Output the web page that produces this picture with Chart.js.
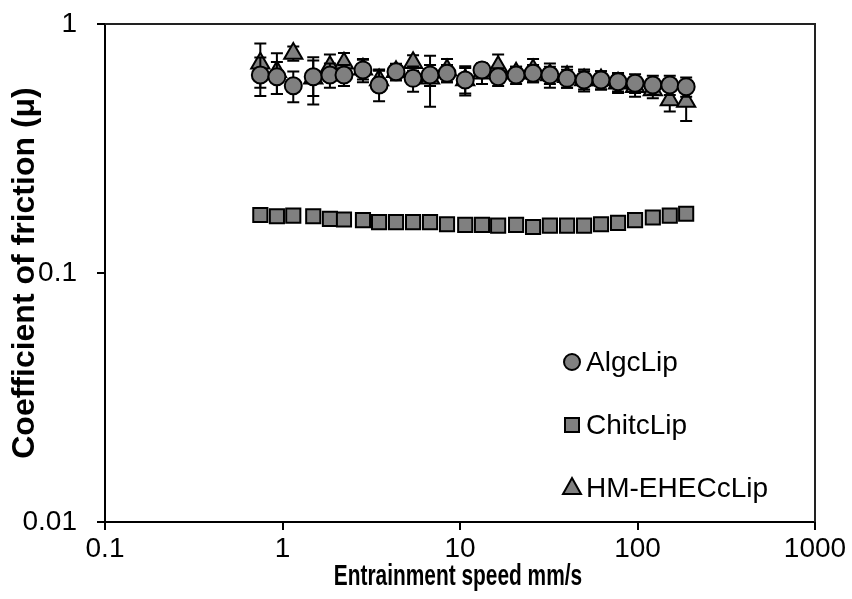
<!DOCTYPE html>
<html>
<head>
<meta charset="utf-8">
<script src="https://cdn.jsdelivr.net/npm/chart.js@4.4.1/dist/chart.umd.min.js"></script>
<style>
  html, body { margin: 0; padding: 0; background: #fff; }
  #wrap { width: 852px; height: 599px; }
</style>
</head>
<body>
<div id="wrap"><canvas id="frictionChart" width="852" height="599"></canvas></div>
<script>
// speeds (mm/s) and friction values
const speed = [0.75, 0.93, 1.15, 1.49, 1.85, 2.22, 2.84, 3.50, 4.36, 5.44, 6.78, 8.45, 10.7,
               13.3, 16.4, 20.7, 25.8, 32.1, 40.1, 50.0, 62.3, 77.7, 96.9, 122, 152, 188];
const algc = [0.624, 0.614, 0.565, 0.614, 0.624, 0.624, 0.654, 0.569, 0.643, 0.605, 0.624, 0.634, 0.596,
              0.654, 0.614, 0.624, 0.634, 0.624, 0.605, 0.596, 0.596, 0.586, 0.578, 0.569, 0.569, 0.560];
const algcErr = [0.11, 0.09, 0.08, 0.10, 0.07, 0.06, 0.07, 0.08, 0.05, 0.07, 0.06, 0.05, 0.08,
                 0.04, 0.05, 0.05, 0.05, 0.05, 0.05, 0.05, 0.05, 0.05, 0.05, 0.05, 0.05, 0.05];
const chitc = [0.171, 0.169, 0.170, 0.169, 0.165, 0.164, 0.163, 0.160, 0.160, 0.160, 0.160, 0.157, 0.156,
               0.156, 0.155, 0.156, 0.153, 0.155, 0.155, 0.155, 0.157, 0.159, 0.163, 0.167, 0.170, 0.173];
const chitcErr = [0.005, 0.004, 0.006, 0.004, 0.005, 0.004, 0.004, 0.005, 0.004, 0.004, 0.006, 0.004, 0.004,
                  0.004, 0.004, 0.004, 0.004, 0.004, 0.004, 0.004, 0.004, 0.004, 0.004, 0.004, 0.004, 0.004];
const hm = [0.695, 0.643, 0.762, 0.605, 0.674, 0.695, 0.658, 0.596, 0.643, 0.699, 0.605, 0.654, 0.596,
            0.634, 0.674, 0.634, 0.654, 0.624, 0.614, 0.596, 0.596, 0.578, 0.560, 0.543, 0.495, 0.488];
const hmErr = [0.14, 0.12, 0.05, 0.13, 0.08, 0.07, 0.06, 0.06, 0.04, 0.05, 0.14, 0.07, 0.07,
               0.06, 0.08, 0.04, 0.07, 0.07, 0.06, 0.06, 0.05, 0.05, 0.05, 0.04, 0.05, 0.08];

const xTicks = [0.1, 1, 10, 100, 1000];
const yTicks = [0.01, 0.1, 1];
const seriesNames = ['AlgcLip', 'ChitcLip', 'HM-EHECcLip'];
const xTitle = 'Entrainment speed mm/s';

const tickFont = { family: '"Liberation Sans", Arial, sans-serif', size: 28 };

function points(ys) {
    return speed.map((x, i) => ({ x: x, y: ys[i] }));
}

// error bars of each series go under its own markers
const errorBars = {
    id: 'errorBars',
    beforeDatasetDraw(chart, args) {
        const ds = chart.data.datasets[args.index];
        const ctx = chart.ctx;
        const xs = chart.scales.x, ys = chart.scales.y;
        ctx.save();
        ctx.strokeStyle = '#000';
        ctx.lineWidth = 2;
        ds.data.forEach((p, i) => {
            const e = ds.errors[i];
            const px = xs.getPixelForValue(p.x);
            const top = ys.getPixelForValue(p.y + e);
            const bot = ys.getPixelForValue(p.y - e);
            ctx.beginPath();
            ctx.moveTo(px, top); ctx.lineTo(px, bot);
            ctx.moveTo(px - 6, top); ctx.lineTo(px + 6, top);
            ctx.moveTo(px - 6, bot); ctx.lineTo(px + 6, bot);
            ctx.stroke();
        });
        ctx.restore();
    }
};

// frame on top/right, condensed x title and legend inside the plot
const frameAndLegend = {
    id: 'frameAndLegend',
    afterDraw(chart) {
        const ctx = chart.ctx;
        const a = chart.chartArea;
        ctx.save();
        ctx.strokeStyle = '#222';
        ctx.lineWidth = 2;
        ctx.beginPath();
        ctx.moveTo(a.left, a.top); ctx.lineTo(a.right, a.top); ctx.lineTo(a.right, a.bottom);
        ctx.stroke();

        // x title: narrow bold face, emulated by squeezing horizontally
        ctx.save();
        ctx.translate(458, 577);
        ctx.scale(0.72, 1);
        ctx.font = 'bold 29px "Liberation Sans", Arial, sans-serif';
        ctx.fillStyle = '#000';
        ctx.textAlign = 'center';
        ctx.textBaseline = 'middle';
        ctx.fillText(xTitle, 0, 0);
        ctx.restore();

        const rows = [362, 425, 488];
        ctx.font = '28px "Liberation Sans", Arial, sans-serif';
        ctx.textBaseline = 'middle';
        chart.data.datasets.forEach((ds, i) => {
            const cx = 572, cy = rows[i];
            ctx.fillStyle = '#808080';
            ctx.strokeStyle = '#000';
            ctx.lineWidth = 2;
            ctx.beginPath();
            if (ds.pointStyle === 'circle') {
                ctx.arc(cx, cy, 8, 0, Math.PI * 2);
            } else if (ds.pointStyle === 'rect') {
                ctx.rect(cx - 7, cy - 7, 14, 14);
            } else {
                ctx.moveTo(cx, cy - 10); ctx.lineTo(cx + 9, cy + 6); ctx.lineTo(cx - 9, cy + 6); ctx.closePath();
            }
            ctx.fill(); ctx.stroke();
            ctx.fillStyle = '#000';
            ctx.fillText(seriesNames[i], 586, cy + 1);
        });
        ctx.restore();
    }
};

new Chart(document.getElementById('frictionChart').getContext('2d'), {
    type: 'scatter',
    data: {
        datasets: [{
            label: seriesNames[0],
            data: points(algc),
            errors: algcErr,
            pointStyle: 'circle',
            pointRadius: 8.5,
            backgroundColor: '#808080',
            borderColor: '#000',
            borderWidth: 2
        }, {
            label: seriesNames[1],
            data: points(chitc),
            errors: chitcErr,
            pointStyle: 'rect',
            pointRadius: 10,
            backgroundColor: '#808080',
            borderColor: '#000',
            borderWidth: 2
        }, {
            label: seriesNames[2],
            data: points(hm),
            errors: hmErr,
            pointStyle: 'triangle',
            pointRadius: 10.5,
            backgroundColor: '#808080',
            borderColor: '#000',
            borderWidth: 2
        }]
    },
    options: {
        responsive: false,
        animation: false,
        layout: { padding: { top: 24, right: 37, left: 0, bottom: 0 } },
        plugins: { legend: { display: false }, tooltip: { enabled: false } },
        scales: {
            x: {
                type: 'logarithmic',
                min: 0.1,
                max: 1000,
                afterBuildTicks: s => { s.ticks = xTicks.map(v => ({ value: v })); },
                afterFit: s => { s.height = 77; s.paddingLeft = 0; s.paddingRight = 0; },
                ticks: { color: '#000', font: tickFont, padding: 2, maxRotation: 0,
                         callback: v => String(v) },
                grid: { drawOnChartArea: false, color: '#000', lineWidth: 2, tickLength: 8 },
                border: { color: '#000', width: 2 },
                title: { display: false }
            },
            y: {
                type: 'logarithmic',
                min: 0.01,
                max: 1,
                afterBuildTicks: s => { s.ticks = yTicks.map(v => ({ value: v })); },
                afterFit: s => { s.width = 105; s.paddingTop = 0; s.paddingBottom = 0; },
                ticks: { color: '#000', font: tickFont, padding: 20,
                         callback: v => String(v) },
                grid: { drawOnChartArea: false, color: '#000', lineWidth: 2, tickLength: 8 },
                border: { color: '#000', width: 2 },
                title: { display: true, text: 'Coefficient of friction (μ)', color: '#000',
                         font: { family: '"Liberation Sans", Arial, sans-serif', size: 32, weight: 'bold' },
                         padding: { top: 6, bottom: 0 } }
            }
        }
    },
    plugins: [errorBars, frameAndLegend]
});
</script>
</body>
</html>
